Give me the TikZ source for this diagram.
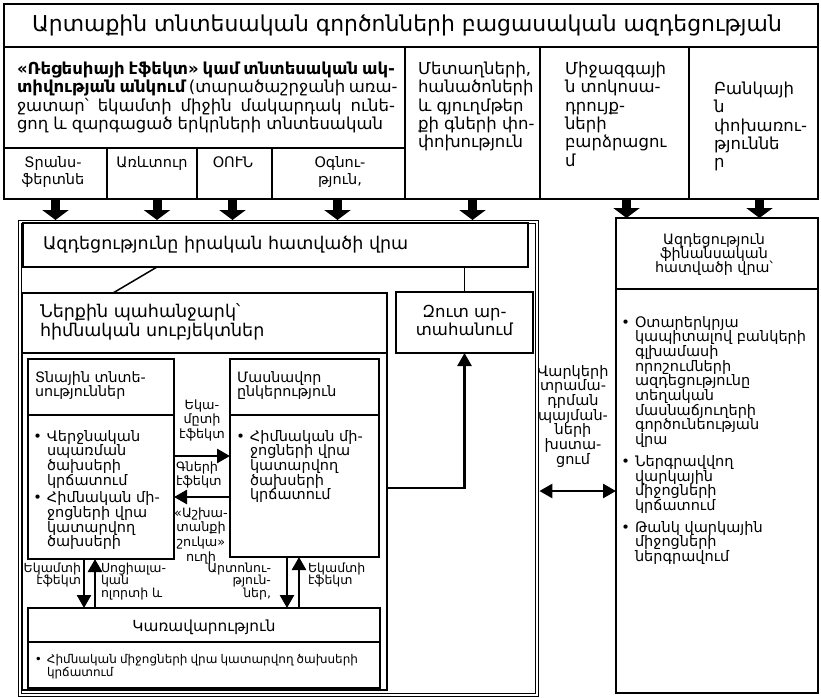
\documentclass[tikz,border=0pt]{standalone}
\usepackage{fontspec}
\setmainfont{DejaVu Sans}
\usetikzlibrary{arrows.meta}
\newcommand\fT{\fontsize{21.9}{24}\selectfont}
\newcommand\fB{\fontsize{17.5}{19}\selectfont}
\newcommand\fM{\fontsize{16.5}{18.3}\selectfont}
\newcommand\fP{\fontsize{14.5}{17}\selectfont}
\newcommand\fH{\fontsize{14.3}{14.3}\selectfont}
\newcommand\fL{\fontsize{14.5}{14.7}\selectfont}
\newcommand\fQ{\fontsize{12.8}{14.8}\selectfont}
\newcommand\fS{\fontsize{12.5}{12.4}\selectfont}
\newcommand\TxL[1]{\vtop{\lineskiplimit=-100pt\lineskip=0pt\halign{##\hfil\cr#1\crcr}}}
\newcommand\TxC[1]{\vtop{\lineskiplimit=-100pt\lineskip=0pt\halign{\hfil##\hfil\cr#1\crcr}}}
\newcommand\TxR[1]{\vtop{\lineskiplimit=-100pt\lineskip=0pt\halign{\hfil##\cr#1\crcr}}}
\newcommand\bul{\llap{\textbullet\hskip 5pt}}
\begin{document}
\begin{tikzpicture}[x=1pt,y=-1pt,
  bx/.style={draw, line width=1.5pt, inner sep=0pt, outer sep=0pt, anchor=north west},
  txt/.style={inner sep=0pt, outer sep=0pt},
  fat/.style={line width=9pt, -{Triangle[width=26pt,length=10pt]}},
  marr/.style={line width=2.6pt, -{Triangle[width=14pt,length=13pt]}},
  darr/.style={line width=2.6pt, {Triangle[width=14pt,length=13pt]}-{Triangle[width=14pt,length=13pt]}},
  cline/.style={line width=1.5pt}]
\useasboundingbox (0,0) rectangle (821,697);

% ---------- top table ----------
\node[bx, minimum width=814pt, minimum height=43pt] (title) at (4,4) {};
\node[bx, minimum width=401pt, minimum height=101pt] (rec) at (4,47) {};
\node[bx, minimum width=103pt, minimum height=51pt] (sb1) at (4,148) {};
\node[bx, minimum width=90pt, minimum height=51pt] (sb2) at (107,148) {};
\node[bx, minimum width=75pt, minimum height=51pt] (sb3) at (197,148) {};
\node[bx, minimum width=133pt, minimum height=51pt] (sb4) at (272,148) {};
\node[bx, minimum width=135pt, minimum height=152pt] (c1) at (405,47) {};
\node[bx, minimum width=149pt, minimum height=152pt] (c2) at (540,47) {};
\node[bx, minimum width=129pt, minimum height=152pt] (c3) at (689,47) {};

\node[txt, anchor=base, font=\fT] (ttl) at (407,31) {Արտաքին տնտեսական գործոնների բացասական ազդեցության};
\node[txt, anchor=base west, font=\fM] (rect) at (17,74.5) {\TxL{%
\makebox[378pt][s]{\bfseries «Ռեցեսիայի էֆեկտ» կամ տնտեսական ակ-}\cr
\makebox[378pt][s]{{\bfseries տիվության անկում} (տարածաշրջանի առա-}\cr
\makebox[378pt][s]{ջատար՝ եկամտի միջին մակարդակ ունե-}\cr
\makebox[366pt][s]{ցող և զարգացած երկրների տնտեսական}}};
\node[txt, anchor=base, font=\fP] (t1) at (53,167.5) {\TxC{Տրանս-\cr ֆերտնե}};
\node[txt, anchor=base, font=\fP] (t2) at (152,167.5) {Առևտուր};
\node[txt, anchor=base, font=\fP] (t3) at (233,167.5) {ՕՈՒՆ};
\node[txt, anchor=base, font=\fP] (t4) at (340,167.5) {\TxC{Օգնու-\cr թյուն,}};
\node[txt, anchor=base west, font=\fM] (tc1) at (418,74.5) {\TxL{Մետաղների,\cr հանածոների\cr և գյուղմթեր\cr քի գների փո-\cr փոխություն}};
\node[txt, anchor=base west, font=\fM] (tc2) at (565,74.5) {\TxL{Միջազգայի\cr ն տոկոսա-\cr դրույք-\cr ների\cr բարձրացու\cr մ}};
\node[txt, anchor=base west, font=\fM] (tc3) at (714,94.5) {\TxL{Բանկայի\cr ն\cr փոխառու-\cr թյուննե\cr ր}};

% ---------- left big block ----------
\node[bx, double, line width=1.2pt, double distance=2pt, outer sep=2.2pt,
      minimum width=517pt, minimum height=473pt] (big) at (18,220) {};
\node[bx, minimum width=505pt, minimum height=44pt] (azd) at (23,223) {};
\node[bx, minimum width=365pt, minimum height=397pt] (grp) at (22,293) {};
\node[bx, minimum width=365pt, minimum height=60pt] (ner) at (22,293) {};
\node[bx, minimum width=137pt, minimum height=61pt] (zut) at (396,292) {};
\node[bx, minimum width=146pt, minimum height=56pt] (hhh) at (28,359) {};
\node[bx, minimum width=146pt, minimum height=144pt] (hhb) at (28,415) {};
\node[bx, minimum width=149pt, minimum height=56pt] (fmh) at (230,359) {};
\node[bx, minimum width=149pt, minimum height=142pt] (fmb) at (230,415) {};
\node[bx, minimum width=352pt, minimum height=34pt] (gvh) at (28,608) {};
\node[bx, minimum width=352pt, minimum height=46pt] (gvb) at (28,642) {};

\node[txt, anchor=base west, font=\fB] (tazd) at (43,249.7) {Ազդեցությունը իրական հատվածի վրա};
\node[txt, anchor=base west, font=\fB] (tner) at (40,317.7) {\TxL{Ներքին պահանջարկ՝\cr հիմնական սուբյեկտներ}};
\node[txt, anchor=base, font=\fM] (tzut) at (464.5,317.5) {\TxC{Զուտ ար-\cr տահանում}};
\node[txt, anchor=base west, font=\fH] (thh) at (35,382) {\TxL{Տնային տնտե-\cr սություններ}};
\node[txt, anchor=base west, font=\fH] (tfm) at (237,382) {\TxL{Մասնավոր\cr ընկերություն}};
\node[txt, anchor=base west, font=\fL] (bhh) at (47,441) {\TxL{\bul Վերջնական\cr սպառման\cr ծախսերի\cr կրճատում\cr\noalign{\vskip 3pt}\bul Հիմնական մի-\cr ջոցների վրա\cr կատարվող\cr ծախսերի}};
\node[txt, anchor=base west, font=\fL] (bfm) at (250,441) {\TxL{\bul Հիմնական մի-\cr ջոցների վրա\cr կատարվող\cr ծախսերի\cr կրճատում}};
\node[txt, anchor=base, font=\fQ] (l1) at (202,409) {\TxC{Եկա-\cr մըտի\cr էֆեկտ}};
\node[txt, anchor=base west, font=\fQ] (l2) at (176,471) {\TxL{Գների\cr էֆեկտ}};
\node[txt, anchor=base, font=\fQ] (l3) at (201,517) {\TxC{«Աշխա-\cr տանքի\cr շուկա»\cr ուղի}};
\node[txt, anchor=base east, font=\fS] (l4) at (81,572.5) {\TxR{Եկամտի\cr էֆեկտ}};
\node[txt, anchor=base west, font=\fS] (l5) at (101,572.5) {\TxL{Սոցիալա-\cr կան\cr ոլորտի և}};
\node[txt, anchor=base east, font=\fS] (l6) at (271,572.5) {\TxR{Արտոնու-\cr թյուն-\cr ներ,}};
\node[txt, anchor=base west, font=\fS] (l7) at (308,572.5) {\TxL{Եկամտի\cr էֆեկտ}};
\node[txt, anchor=base, font=\fontsize{15.3}{17}\selectfont] (tgv) at (204,631.5) {Կառավարություն};
\node[txt, anchor=base west, font=\fontsize{12}{13}\selectfont] (bgv) at (47,663) {\TxL{\bul\makebox[311pt][s]{Հիմնական միջոցների վրա կատարվող ծախսերի}\cr կրճատում}};

% ---------- right block ----------
\node[bx, minimum width=202pt, minimum height=71pt] (rph) at (616,218) {};
\node[bx, minimum width=202pt, minimum height=404pt] (rpb) at (616,289) {};
\node[txt, anchor=base, font=\fH] (trp) at (714,244) {\TxC{Ազդեցություն\cr ֆինանսական\cr հատվածի վրա՝}};
\node[txt, anchor=base west, font=\fL] (brp) at (635,327) {\TxL{\bul Օտարերկրյա\cr կապիտալով բանկերի\cr գլխամասի\cr որոշումների\cr ազդեցությունը\cr տեղական\cr մասնաճյուղերի\cr գործունեության\cr վրա\cr\noalign{\vskip 7pt}\bul Ներգրավվող\cr վարկային\cr միջոցների\cr կրճատում\cr\noalign{\vskip 7pt}\bul Թանկ վարկային\cr միջոցների\cr ներգրավում}};
\node[txt, anchor=base, font=\fL] (tvr) at (573,376) {\TxC{Վարկերի\cr տրամա-\cr դրման\cr պայման-\cr ների\cr խստա-\cr ցում}};

% ---------- connectors ----------
\draw[fat] (sb1.south) -- (sb1.south |- big.north);
\draw[fat] ([xshift=5pt]sb2.south) -- ([xshift=5pt]sb2.south |- big.north);
\draw[fat] ([xshift=-2pt]sb3.south) -- ([xshift=-2pt]sb3.south |- big.north);
\draw[fat] ([xshift=-1pt]sb4.south) -- ([xshift=-1pt]sb4.south |- big.north);
\draw[fat] (c1.south) -- (c1.south |- big.north);
\draw[fat] ([xshift=12pt]c2.south) -- ([xshift=12pt]c2.south |- rph.north);
\draw[fat] ([xshift=6pt]c3.south) -- ([xshift=6pt]c3.south |- rph.north);

\draw[cline] ([xshift=134pt]azd.south west) -- ([xshift=91pt]ner.north west);
\draw[cline] (zut.north) -- (zut.north |- azd.south);
\coordinate (jn) at (464.5,488);
\draw[marr] (grp.east |- jn) -| (zut.south);

\coordinate (a1) at (0,456);
\coordinate (a2) at (0,497);
\draw[marr] (hhb.east |- a1) -- (fmb.west |- a1);
\draw[marr] (fmb.west |- a2) -- (hhb.east |- a2);

\coordinate (b1) at (84,0);
\coordinate (b2) at (95,0);
\coordinate (b3) at (287,0);
\coordinate (b4) at (299,0);
\draw[marr] (b1 |- hhb.south) -- (b1 |- gvh.north);
\draw[marr] (b2 |- gvh.north) -- (b2 |- hhb.south);
\draw[marr] (b3 |- fmb.south) -- (b3 |- gvh.north);
\draw[marr] (b4 |- gvh.north) -- (b4 |- fmb.south);

\coordinate (dd) at (0,491);
\draw[darr] (big.east |- dd) -- (rpb.west |- dd);
\end{tikzpicture}
\end{document}
